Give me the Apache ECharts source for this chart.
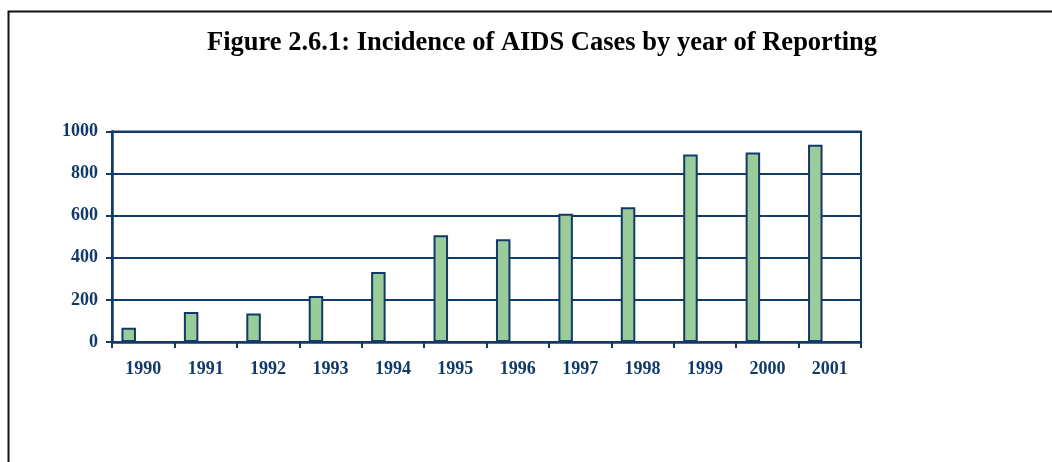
<!DOCTYPE html>
<html>
<head>
<meta charset="utf-8">
<style>
  html, body { margin: 0; padding: 0; background: #fff; }
  #chart { width: 1052px; height: 462px; }
</style>
<script src="https://cdn.jsdelivr.net/npm/echarts@6/dist/echarts.min.js"></script>
</head>
<body>
<div id="chart"></div>
<script>
var years = ['1990', '1991', '1992', '1993', '1994', '1995', '1996', '1997', '1998', '1999', '2000', '2001'];
var cases = [68, 142, 135, 219, 333, 507, 488, 609, 640, 891, 900, 937];
var emptyRow = years.map(function () { return '-'; });

var navy = '#123a68';
var dom = document.getElementById('chart');
var myChart = echarts.init(dom);

var labelFont = {
    color: navy,
    fontFamily: '"Liberation Serif", "Times New Roman", serif',
    fontWeight: 'bold',
    fontSize: 18
};

var option = {
    animation: false,
    title: {
        text: 'Figure 2.6.1: Incidence of AIDS Cases by year of Reporting',
        left: 202,
        top: 25,
        textStyle: {
            color: '#000',
            fontFamily: '"Liberation Serif", "Times New Roman", serif',
            fontWeight: 'bold',
            fontSize: 26.5
        }
    },
    graphic: [{
        type: 'polyline',
        shape: { points: [[8.5, 462], [8.5, 11.5], [1052, 11.5]] },
        style: { stroke: '#111', lineWidth: 2, fill: null }
    }],
    grid: {
        left: 112,
        right: 191,
        top: 131.5,
        bottom: 120,
        show: true,
        borderColor: navy,
        borderWidth: 2
    },
    xAxis: {
        type: 'category',
        data: years,
        axisLine: { lineStyle: { color: navy, width: 2.5 } },
        axisTick: { show: true, length: 6, lineStyle: { color: navy, width: 2 } },
        axisLabel: Object.assign({ margin: 18 }, labelFont)
    },
    yAxis: {
        type: 'value',
        min: 0,
        max: 1000,
        interval: 200,
        axisLine: { show: true, lineStyle: { color: navy, width: 2.5 } },
        axisTick: { show: true, length: 6, lineStyle: { color: navy, width: 2 } },
        axisLabel: Object.assign({ margin: 14, formatter: function (v) { return String(v); } }, labelFont),
        splitLine: { show: true, lineStyle: { color: navy, width: 2 } }
    },
    series: [{
        type: 'bar',
        data: cases,
        barWidth: 14.5,
        barGap: '0%',
        itemStyle: { color: '#99cc99', borderColor: navy, borderWidth: 2 }
    }, {
        type: 'bar',
        data: emptyRow,
        barWidth: 14.5,
        barGap: '0%'
    }, {
        type: 'bar',
        data: emptyRow,
        barWidth: 14.5,
        barGap: '0%'
    }]
};

myChart.setOption(option);
</script>
</body>
</html>
